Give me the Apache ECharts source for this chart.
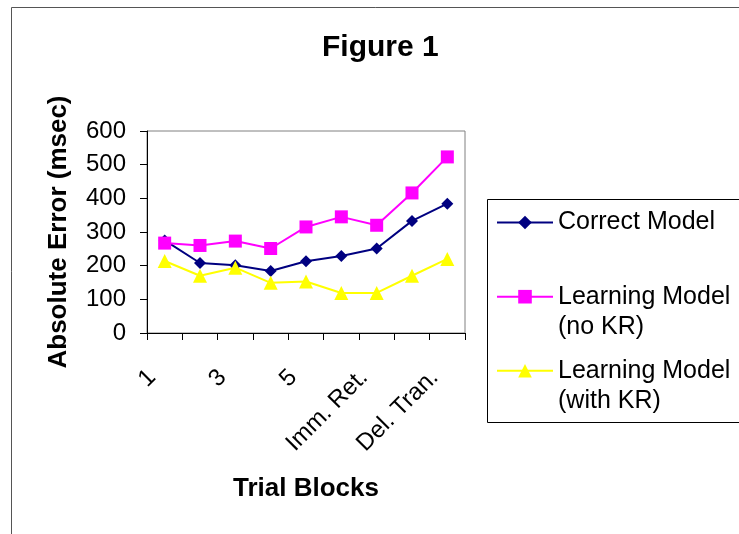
<!DOCTYPE html>
<html>
<head>
<meta charset="utf-8">
<title>Figure 1</title>
<script src="https://cdn.jsdelivr.net/npm/echarts@6/dist/echarts.min.js"></script>
<style>
  html, body { margin: 0; padding: 0; background: #ffffff; }
  #chart { width: 739px; height: 534px; }
</style>
</head>
<body>
<div id="chart"></div>
<script>
// Trial blocks on the x axis (every other label is shown)
const categories = ['1', '2', '3', '4', '5', '6', 'Imm. Ret.', 'Del. Ret.', 'Del. Tran.'];

// Absolute error (msec) per block
const correctModel = [275, 208, 201, 184, 213, 229, 251, 333, 384];
const learningNoKR = [267, 260, 273, 251, 315, 345, 320, 416, 523];
const learningWithKR = [214, 170, 194, 149, 153, 119, 119, 170, 220];

const yTicks = { min: 0, max: 600, interval: 100 };

const seriesNames = ['Correct Model', 'Learning Model (no KR)', 'Learning Model (with KR)'];
// A leading empty line keeps the icon level with the first line of two-line entries
const legendLabels = ['Correct Model', '\nLearning Model\n(no KR)', '\nLearning Model\n(with KR)'];

const FONT = '"Liberation Sans", Arial, Helvetica, sans-serif';

const chart = echarts.init(document.getElementById('chart'), null, { renderer: 'canvas' });

// One legend block per series, placed one under the other
function legendFor(i, top) {
  return {
    data: [seriesNames[i]],
    orient: 'vertical',
    left: 496,
    top: top,
    padding: 0,
    itemWidth: 56,
    itemHeight: 17,
    formatter: function () { return legendLabels[i]; },
    textStyle: {
      fontFamily: FONT,
      fontSize: 25,
      color: '#000000',
      lineHeight: 30
    },
    selectedMode: false
  };
}

const option = {
  backgroundColor: '#ffffff',
  animation: false,
  title: {
    text: 'Figure 1',
    left: 322,
    top: 33,
    padding: 0,
    textStyle: { fontFamily: FONT, fontSize: 30, fontWeight: 'bold', color: '#000000' }
  },
  graphic: [
    {
      type: 'rect',
      shape: { x: 11.5, y: 7.5, width: 760, height: 560 },
      style: { fill: 'none', stroke: '#555555', lineWidth: 1 },
      silent: true
    },
    {
      type: 'rect',
      shape: { x: 487.5, y: 199.5, width: 270, height: 223 },
      style: { fill: 'none', stroke: '#000000', lineWidth: 1 },
      silent: true
    }
  ],
  legend: [
    legendFor(0, 207.5),
    legendFor(1, 251.7),
    legendFor(2, 325.7)
  ],
  grid: {
    left: 147,
    top: 131,
    width: 318,
    height: 202,
    show: true,
    borderColor: '#808080',
    borderWidth: 1,
    backgroundColor: 'transparent'
  },
  xAxis: {
    type: 'category',
    data: categories,
    boundaryGap: true,
    name: 'Trial Blocks',
    nameLocation: 'middle',
    nameGap: 143,
    nameTextStyle: { fontFamily: FONT, fontSize: 26, fontWeight: 'bold', color: '#000000' },
    axisLine: { lineStyle: { color: '#000000', width: 1 } },
    axisTick: { show: true, interval: 0, length: 7, inside: false, lineStyle: { color: '#000000' } },
    axisLabel: {
      interval: 1,
      rotate: 45,
      margin: 28,
      padding: [0, 18, 0, 0],
      fontFamily: FONT,
      fontSize: 24,
      color: '#000000'
    },
    splitLine: { show: false }
  },
  yAxis: {
    type: 'value',
    min: yTicks.min,
    max: yTicks.max,
    interval: yTicks.interval,
    name: 'Absolute Error (msec)',
    nameLocation: 'middle',
    nameGap: 75,
    nameTextStyle: { fontFamily: FONT, fontSize: 26, fontWeight: 'bold', color: '#000000' },
    axisLine: { show: true, lineStyle: { color: '#000000', width: 1 } },
    axisTick: { show: true, length: 7, inside: false, lineStyle: { color: '#000000' } },
    axisLabel: { margin: 21, fontFamily: FONT, fontSize: 24, color: '#000000' },
    splitLine: { show: false }
  },
  series: [
    {
      name: seriesNames[0],
      type: 'line',
      data: correctModel,
      symbol: 'diamond',
      symbolSize: 12,
      itemStyle: { color: '#000080' },
      lineStyle: { color: '#000080', width: 2 }
    },
    {
      name: seriesNames[1],
      type: 'line',
      data: learningNoKR,
      symbol: 'rect',
      symbolSize: 13,
      itemStyle: { color: '#FF00FF' },
      lineStyle: { color: '#FF00FF', width: 2 }
    },
    {
      name: seriesNames[2],
      type: 'line',
      data: learningWithKR,
      symbol: 'triangle',
      symbolSize: 14,
      itemStyle: { color: '#FFFF00' },
      lineStyle: { color: '#FFFF00', width: 2 }
    }
  ]
};

chart.setOption(option);
</script>
</body>
</html>
